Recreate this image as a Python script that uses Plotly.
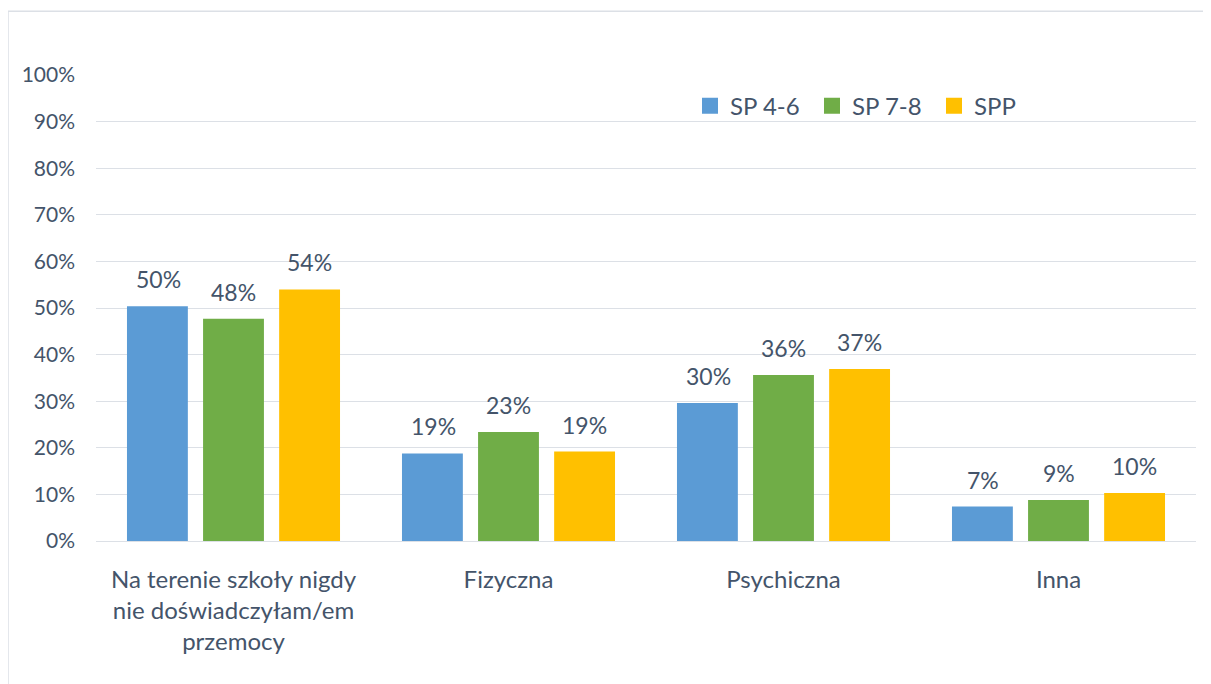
import plotly.graph_objects as go

categories = ["Na terenie szkoły nigdy<br>nie doświadczyłam/em<br>przemocy", "Fizyczna", "Psychiczna", "Inna"]
series_names = ["SP 4-6", "SP 7-8", "SPP"]
sp46 = [0.504, 0.188, 0.296, 0.074]
sp78 = [0.477, 0.234, 0.356, 0.088]
spp = [0.540, 0.192, 0.369, 0.103]
colors = ["#5B9BD5", "#70AD47", "#FFC000"]
tick_vals = [0, 0.1, 0.2, 0.3, 0.4, 0.5, 0.6, 0.7, 0.8, 0.9, 1.0]
tick_text = ["0%", "10%", "20%", "30%", "40%", "50%", "60%", "70%", "80%", "90%", "100%"]

FONT = "Lato, 'Open Sans', sans-serif"
TXT = "#44546A"
GRID = "#DCE0E6"

fig = go.Figure()
all_series = [sp46, sp78, spp]
for name, vals, col in zip(series_names, all_series, colors):
    fig.add_trace(go.Bar(x=categories, y=vals, name=name, showlegend=False,
                         marker=dict(color=col, line=dict(width=0))))
# legend entries with square markers
for name, col in zip(series_names, colors):
    fig.add_trace(go.Scatter(x=[categories[0]], y=[None], name=name, mode="markers",
                             marker=dict(symbol="square", size=16, color=col), showlegend=True))

# data labels above bars
for i, vals in enumerate(all_series):
    for cat, v in zip(categories, vals):
        fig.add_annotation(x=cat, y=v, xref="x", yref="y", text=f"{round(v*100)}%",
                           showarrow=False, xshift=(i - 1) * 75.5, yshift=11, yanchor="bottom",
                           font=dict(family=FONT, size=23, color=TXT))

fig.add_shape(type="rect", xref="paper", yref="paper",
              x0=-0.08, x1=1.2, y0=-0.5, y1=1.137,
              line=dict(color=GRID, width=1.5), fillcolor="rgba(0,0,0,0)", layer="below")

fig.update_layout(
    width=1211, height=684,
    margin=dict(l=88, r=23, t=67, b=151),
    paper_bgcolor="white", plot_bgcolor="white",
    barmode="group", bargap=0.17, bargroupgap=0.2,
    font=dict(family=FONT, color=TXT),
    showlegend=True,
    legend=dict(orientation="h", x=0.54, y=0.933, xanchor="left", yanchor="middle",
                font=dict(family=FONT, size=24, color=TXT), itemwidth=30,
                entrywidth=77, entrywidthmode="pixels",
                bgcolor="rgba(0,0,0,0)"),
    xaxis=dict(showgrid=False, showline=False, zeroline=False, ticks="outside", ticklen=17,
               tickcolor="rgba(0,0,0,0)", tickfont=dict(family=FONT, size=24, color=TXT)),
    yaxis=dict(range=[0, 1.0001], tickvals=tick_vals, ticktext=tick_text, showgrid=True,
               gridcolor=GRID, gridwidth=1.3, zeroline=True, zerolinecolor=GRID,
               zerolinewidth=1.3, showline=False, ticklabelstandoff=20,
               tickfont=dict(family=FONT, size=21, color=TXT)),
)

fig.write_html("out.html")
